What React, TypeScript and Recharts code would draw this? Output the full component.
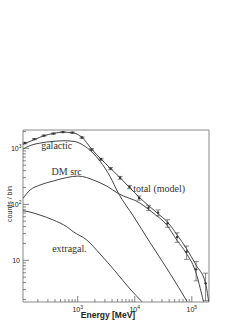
import { LineChart, Line, XAxis, YAxis, ErrorBar, ReferenceArea, ReferenceDot } from "recharts";

// axis ranges (MeV, counts / bin)
const xMin = 110;
const xMax = 200000;
const yMin = 1.8;
const yMax = 2130;

const xTicks = [
    200, 300, 400, 500, 600, 700, 800, 900, 1000,
    2000, 3000, 4000, 5000, 6000, 7000, 8000, 9000, 10000,
    20000, 30000, 40000, 50000, 60000, 70000, 80000, 90000, 100000,
];
const xMajor = [1000, 10000, 100000];
const yTicks = [
    2, 3, 4, 5, 6, 7, 8, 9, 10,
    20, 30, 40, 50, 60, 70, 80, 90, 100,
    200, 300, 400, 500, 600, 700, 800, 900, 1000, 2000,
];
const yMajor = [10, 100, 1000];

// measured counts with errors
const binEnergy = [119, 175, 256, 376, 552, 809, 1190, 1750, 2560, 3760, 5520, 8100, 11900, 17400, 25600, 37600, 55200, 81000, 119000, 174000];
const binCounts = [1244, 1466, 1693, 1837, 1954, 1914, 1560, 955, 640, 435, 298, 204, 130, 87, 71, 46, 26, 14.2, 6.9, 3.9];
const binError = [35, 38, 41, 43, 44, 44, 40, 31, 25, 20, 17, 14, 11, 9, 8.5, 7, 5, 3.8, 2.6, 2];

// total (model)
const totalEnergy = [110, 119, 175, 256, 376, 552, 809, 1190, 1750, 2560, 3760, 5520, 8100, 11900, 17400, 25600, 37600, 55200, 81000, 119000, 174000, 197000];
const totalCounts = [1180, 1220, 1440, 1680, 1850, 1950, 1900, 1575, 975, 645, 440, 300, 200, 135, 95, 68, 48, 28.5, 16, 8.2, 3.9, 1.85];

// galactic
const galEnergy = [110, 146, 218, 369, 599, 897, 1240, 1780, 2460, 3690, 5150, 9440, 18500, 41600, 82600];
const galCounts = [972, 1122, 1243, 1334, 1367, 1323, 1145, 859, 593, 314, 159, 61.8, 20.8, 5.8, 1.84];

// DM src
const dmEnergy = [110, 146, 218, 373, 641, 1012, 1440, 1880, 3230, 5150, 12400, 19900, 36400, 54600, 79400, 114000, 160000];
const dmCounts = [128, 180, 221, 261, 301, 320, 301, 272, 212, 156, 105, 73, 42.7, 23, 13.5, 6.7, 1.82];

// extragal.
const egEnergy = [110, 146, 218, 373, 641, 837, 1440, 2460, 4510, 8280, 13400];
const egCounts = [77, 72.9, 64.4, 52.5, 39.8, 32.4, 23.1, 13, 6.44, 3.07, 1.82];

const toRows = (es: number[], cs: number[]) => es.map((e, i) => ({ e, c: cs[i] }));

const points = binEnergy.map((e, i) => ({ e, c: binCounts[i], err: binError[i] }));
const totalLine = toRows(totalEnergy, totalCounts);
const galLine = toRows(galEnergy, galCounts);
const dmLine = toRows(dmEnergy, dmCounts);
const egLine = toRows(egEnergy, egCounts);

const INK = "#444";
const SANS = "'Liberation Sans', Arial, sans-serif";
const SERIF = "'Liberation Serif', 'Times New Roman', serif";

function XTick(props: any) {
    const { x, y, payload } = props;
    const v = payload.value;
    const major = xMajor.includes(v);
    return (
        <g>
            <line x1={x} x2={x} y1={y} y2={y - (major ? 6 : 3)} stroke="#666" strokeWidth={0.8} />
            {major && (
                <text x={x} y={y + 10} textAnchor="middle" fontSize={7} fontFamily={SANS} fill="#222">
                    10<tspan dy={-3} fontSize={5}>{Math.round(Math.log10(v))}</tspan>
                </text>
            )}
        </g>
    );
}

function YTick(props: any) {
    const { x, y, payload } = props;
    const v = payload.value;
    const major = yMajor.includes(v);
    const exp = Math.round(Math.log10(v));
    return (
        <g>
            <line x1={x} x2={x + (major ? 6 : 3)} y1={y} y2={y} stroke="#666" strokeWidth={0.8} />
            {major && (
                <text x={exp === 1 ? x - 3 : x - 1.5} y={y + 2.5} textAnchor="end" fontSize={7} fontFamily={SANS} fill="#222">
                    10{exp > 1 && <tspan dy={-3} fontSize={5}>{exp}</tspan>}
                </text>
            )}
        </g>
    );
}

const labelStyle = { position: "center" as const, fontFamily: SERIF, fontSize: 10, fill: "#333" };

export default function App() {
    return (
        <div style={{ position: "absolute", left: 0, top: 0, width: 249, height: 323, background: "#fff" }}>
            <LineChart width={249} height={323} margin={{ top: 130, right: 40, bottom: 0, left: 0 }}>
                <XAxis
                    dataKey="e"
                    type="number"
                    scale="log"
                    domain={[xMin, xMax]}
                    allowDataOverflow
                    ticks={xTicks}
                    interval={0}
                    tick={XTick}
                    tickLine={false}
                    axisLine={false}
                    tickSize={0}
                    tickMargin={0}
                    height={21}
                />
                <YAxis
                    type="number"
                    scale="log"
                    domain={[yMin, yMax]}
                    allowDataOverflow
                    ticks={yTicks}
                    interval={0}
                    tick={YTick}
                    tickLine={false}
                    axisLine={false}
                    tickSize={0}
                    tickMargin={0}
                    width={23}
                />
                <Line data={egLine} dataKey="c" type="monotone" stroke={INK} strokeWidth={1} dot={false} isAnimationActive={false} />
                <Line data={dmLine} dataKey="c" type="monotone" stroke={INK} strokeWidth={1} dot={false} isAnimationActive={false} />
                <Line data={galLine} dataKey="c" type="monotone" stroke={INK} strokeWidth={1} dot={false} isAnimationActive={false} />
                <Line data={totalLine} dataKey="c" type="monotone" stroke={INK} strokeWidth={1} dot={false} isAnimationActive={false} />
                <Line
                    data={points}
                    dataKey="c"
                    stroke="none"
                    dot={{ r: 1.2, fill: "#333", stroke: "none" }}
                    isAnimationActive={false}
                >
                    <ErrorBar dataKey="err" direction="y" width={2.5} stroke="#555" strokeWidth={0.7} />
                </Line>
                <ReferenceArea x1={xMin} x2={xMax} y1={yMin} y2={yMax} fill="none" stroke="#888" strokeWidth={1} />
                <ReferenceDot x={429} y={1145} r={0} stroke="none" label={{ value: "galactic", ...labelStyle }} />
                <ReferenceDot x={641} y={382} r={0} stroke="none" label={{ value: "DM src", ...labelStyle }} />
                <ReferenceDot x={26700} y={193} r={0} stroke="none" label={{ value: "total (model)", ...labelStyle }} />
                <ReferenceDot x={718} y={16.4} r={0} stroke="none" label={{ value: "extragal.", ...labelStyle }} />
            </LineChart>
            <svg width={249} height={323} style={{ position: "absolute", left: 0, top: 0, pointerEvents: "none" }}>
                <text x={108} y={318} textAnchor="middle" fontSize={8.5} fontWeight="bold" fontFamily={SANS} fill="#222">
                    Energy [MeV]
                </text>
                <text
                    x={12}
                    y={204}
                    transform="rotate(-90 12 204)"
                    textAnchor="middle"
                    fontSize={7}
                    fontFamily={SANS}
                    fill="#222"
                >
                    counts / bin
                </text>
            </svg>
        </div>
    );
}
